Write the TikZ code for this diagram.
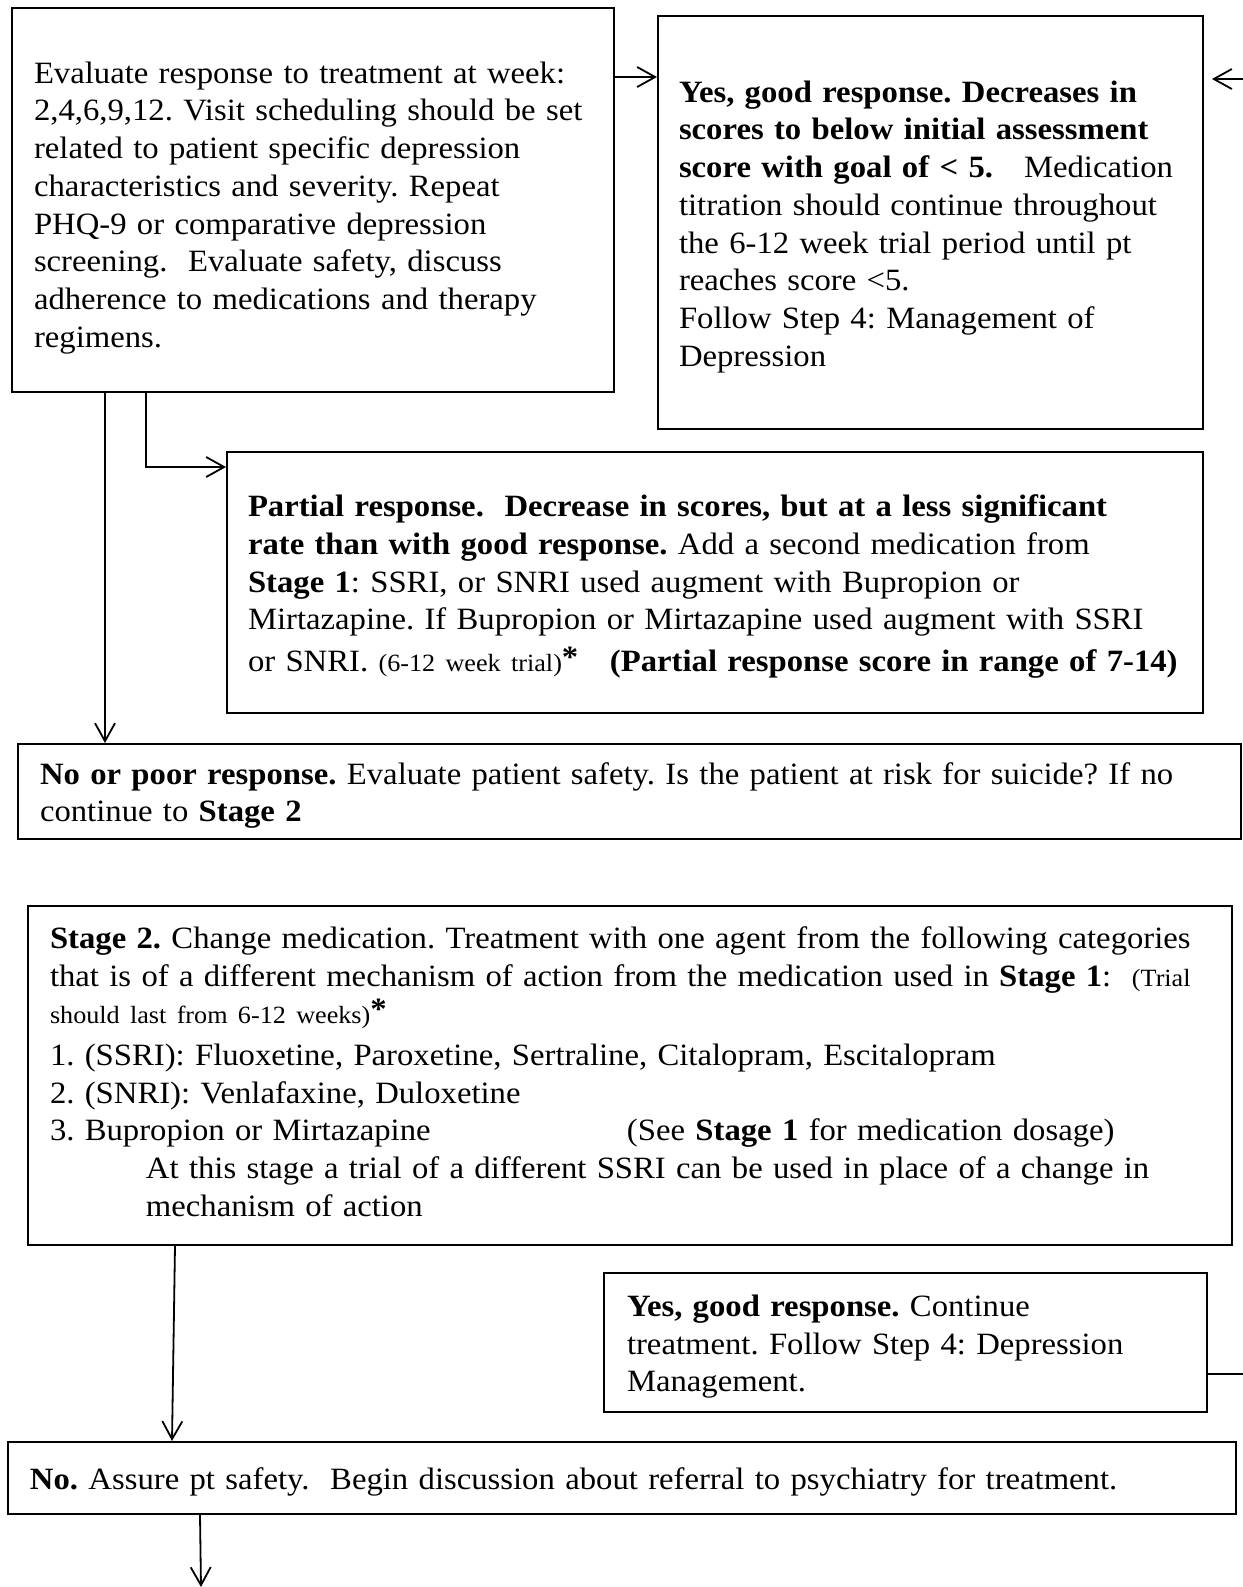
\documentclass[tikz,border=0pt]{standalone}
\usepackage{fontspec}
\setmainfont{Liberation Serif}[FakeStretch=1.055]
\usepackage{tikz}
\usetikzlibrary{arrows.meta}
\frenchspacing
\hyphenpenalty=10000
\exhyphenpenalty=10000
\newcommand{\smalltxt}[1]{{\fontsize{12.4}{18.85}\selectfont #1}}
\newcommand{\footstar}{\raisebox{2pt}{\textbf{*}}}
\tikzset{box/.style={draw,line width=1pt,align=left,inner ysep=0pt,inner xsep=11pt,text height=15pt,font=\fontsize{15.5}{18.85}\selectfont},arr/.style={-{Straight Barb[length=9pt,width=10pt]},line width=0.9pt}}
\begin{document}
\begin{tikzpicture}[x=0.5pt,y=-0.5pt]
\useasboundingbox (0,0) rectangle (1243,1587);
\clip (0,0) rectangle (1243,1587);
\node[box,minimum width=301pt,minimum height=192pt,text width=279pt,text height=18.5pt] (eval) at (313,200) {Evaluate response to treatment at week:\\ 2,4,6,9,12. Visit scheduling should be set\\ related to patient specific depression\\ characteristics and severity. Repeat\\ PHQ-9 or comparative depression\\ screening.\ \ Evaluate safety, discuss\\ adherence to medications and therapy\\ regimens.};
\node[box,minimum width=272.5pt,minimum height=206.5pt,inner xsep=10.5pt,text width=251.5pt] (good) at (930.5,222.5) {\textbf{Yes, good response. Decreases in}\\ \textbf{scores to below initial assessment}\\ \mbox{\textbf{score with goal of < 5.}\ \ \ Medication}\\ titration should continue throughout\\ the 6-12 week trial period until pt\\ reaches score <5.\\ Follow Step 4: Management of\\ Depression};
\node[box,minimum width=488pt,minimum height=130.5pt,inner xsep=10.5pt,text width=467pt] (partial) at (715,582.5) {\textbf{Partial response.\ \ Decrease in scores, but at a less significant}\\ \textbf{rate than with good response.} Add a second medication from\\ \textbf{Stage 1}: SSRI, or SNRI used augment with Bupropion or\\ Mirtazapine. If Bupropion or Mirtazapine used augment with SSRI\\[2pt] \makebox[181pt][l]{or SNRI. \smalltxt{(6-12 week trial)}\footstar}\mbox{\textbf{(Partial response score in range of 7-14)}}};
\node[box,minimum width=611.5pt,minimum height=47.5pt,text width=589.5pt] (poor) at (629.5,791.5) {\textbf{No or poor response.} Evaluate patient safety. Is the patient at risk for suicide? If no\\ continue to \textbf{Stage 2}};
\node[box,minimum width=602pt,minimum height=169.5pt,text width=580pt,text height=7pt] (stage2) at (630,1075.5) {\mbox{\textbf{Stage 2.} Change medication. Treatment with one agent from the following categories}\\ \mbox{that is of a different mechanism of action from the medication used in \textbf{Stage 1}:\ \ \smalltxt{(Trial}}\\ \smalltxt{should last from 6-12 weeks)}\footstar\\[2pt] 1. (SSRI): Fluoxetine, Paroxetine, Sertraline, Citalopram, Escitalopram\\ 2. (SNRI): Venlafaxine, Duloxetine\\ \makebox[288.5pt][l]{3. Bupropion or Mirtazapine}(See \textbf{Stage 1} for medication dosage)\\ \hspace*{48pt}\mbox{At this stage a trial of a different SSRI can be used in place of a change in}\\ \hspace*{48pt}mechanism of action};
\node[box,minimum width=301.5pt,minimum height=69.5pt,inner xsep=11.5pt,text width=278.5pt] (good2) at (905.5,1342.5) {\textbf{Yes, good response.} Continue\\ treatment. Follow Step 4: Depression\\ Management.};
\node[box,minimum width=614pt,minimum height=36pt,text width=592pt] (refer) at (622,1478) {\textbf{No.} Assure pt safety.\ \ Begin discussion about referral to psychiatry for treatment.};
\coordinate (exit) at (201,1587);
\draw[arr] ([yshift=-35pt]eval.north east) -- ([yshift=-31pt]good.north west);
\draw[arr] ([xshift=47pt]eval.south west) -- ([xshift=44pt]poor.north west);
\draw[arr] ([xshift=67.5pt]eval.south west) |- ([yshift=-8pt]partial.north west);
\draw[arr] ([xshift=74pt]stage2.south west) -- ([xshift=82.5pt]refer.north west);
\draw[arr] ([yshift=-15.75pt]good2.east) -- ++(40pt,0pt) |- ([xshift=4pt,yshift=-32pt]good.north east);
\draw[arr] ([xshift=96.5pt]refer.south west) -- (exit);
\end{tikzpicture}
\end{document}
